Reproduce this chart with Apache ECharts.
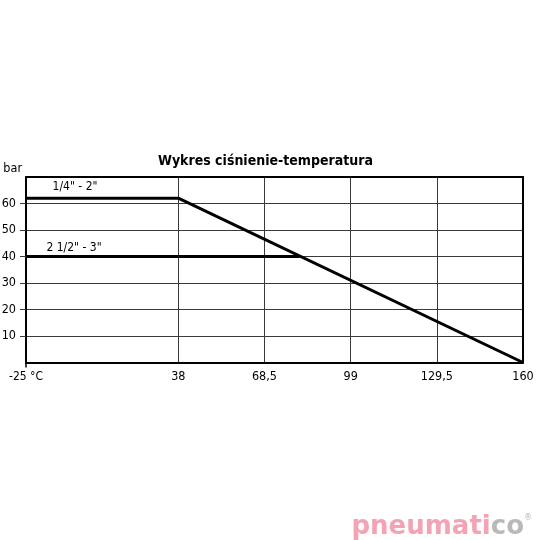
<!DOCTYPE html>
<html>
<head>
<meta charset="utf-8">
<script src="https://cdn.jsdelivr.net/npm/echarts@6/dist/echarts.min.js"></script>
<style>html,body{margin:0;padding:0;background:#fff;}#c{width:540px;height:540px;}</style>
</head>
<body>
<div id="c"></div>
<script>
const chartTitle = 'Wykres ciśnienie-temperatura';
const seriesNames = ['1/4" - 2"', '2 1/2" - 3"'];
const tempSmall = [-25, 38, 160];
const pressSmall = [62, 62, 0];
const tempLarge = [-25, 38, 81];
const pressLarge = [40, 40, 40];
const xTicksLeft = [-25, 38];
const xTicksRight = [38, 68.5, 99, 129.5, 160];
const yTicks = [10, 20, 30, 40, 50, 60];

const FONT = "'Liberation Sans Narrow','DejaVu Sans Condensed','Liberation Sans',sans-serif";
const chart = echarts.init(document.getElementById('c'), null, {renderer: 'canvas'});

function seg(xs, ys, lo, hi) {
  const out = [];
  xs.forEach((x, i) => { if (x >= lo && x <= hi) out.push([x, ys[i]]); });
  return out;
}
const labelOffsets = [[49, 0], [48, 2]];
function leftSeries(name, xs, ys, k) {
  const d = seg(xs, ys, xTicksLeft[0], xTicksLeft[1]).map((p, i) => i === 0 ? {
    value: p,
    label: {show: true, formatter: name, position: 'top', offset: labelOffsets[k], color: '#000', fontSize: 12, fontFamily: FONT}
  } : {value: p});
  return {type: 'line', name, xAxisIndex: 0, yAxisIndex: 0, data: d, showSymbol: true, symbol: 'circle', symbolSize: 0.1,
    itemStyle: {color: '#000'}, lineStyle: {color: '#000', width: 3}, z: 5, silent: true};
}
function rightSeries(name, xs, ys) {
  return {type: 'line', name, xAxisIndex: 2, yAxisIndex: 1, data: seg(xs, ys, xTicksRight[0], xTicksRight[xTicksRight.length - 1]),
    showSymbol: false, lineStyle: {color: '#000', width: 3}, z: 5, silent: true};
}

const yMin = 0, yMax = 70, yInt = yTicks[1] - yTicks[0];
const gridLine = {show: true, lineStyle: {color: '#3a3a3a', width: 1}};
const border = {show: true, onZero: false, lineStyle: {color: '#000', width: 2}};

chart.setOption({
  animation: false,
  title: {text: chartTitle, left: 153, top: 149, textStyle: {fontSize: 14, fontWeight: 'bold', color: '#000', fontFamily: FONT}},
  grid: [
    {left: 26, top: 177, width: 152.3, height: 185.5, outerBoundsMode: 'none', containLabel: false},
    {left: 178.3, top: 177, right: 17, height: 185.5, outerBoundsMode: 'none', containLabel: false}
  ],
  xAxis: [
    {type: 'value', gridIndex: 0, min: xTicksLeft[0], max: xTicksLeft[1], interval: xTicksLeft[1] - xTicksLeft[0],
      axisLine: border, splitLine: {show: false},
      axisTick: {show: true, length: 5, lineStyle: {color: '#000', width: 1.5}, customValues: [xTicksLeft[0]]},
      axisLabel: {showMaxLabel: false, formatter: v => v + ' °C', color: '#000', fontSize: 12, fontFamily: FONT, margin: 8}},
    {type: 'value', gridIndex: 0, position: 'top', min: xTicksLeft[0], max: xTicksLeft[1],
      axisLine: border, splitLine: {show: false}, axisTick: {show: false}, axisLabel: {show: false}},
    {type: 'value', gridIndex: 1, min: xTicksRight[0], max: xTicksRight[xTicksRight.length - 1], interval: xTicksRight[1] - xTicksRight[0],
      axisLine: border, splitLine: gridLine, axisTick: {show: false},
      axisLabel: {formatter: v => String(v).replace('.', ','), color: '#000', fontSize: 12.5, fontFamily: FONT, margin: 8}},
    {type: 'value', gridIndex: 1, position: 'top', min: xTicksRight[0], max: xTicksRight[xTicksRight.length - 1],
      axisLine: border, splitLine: {show: false}, axisTick: {show: false}, axisLabel: {show: false}}
  ],
  yAxis: [
    {type: 'value', gridIndex: 0, min: yMin, max: yMax, interval: yInt,
      name: 'bar', nameLocation: 'end', nameGap: 2,
      nameTextStyle: {align: 'right', color: '#000', fontSize: 12.5, fontFamily: FONT, padding: [0, 4, 0, 0]},
      axisLine: border, splitLine: gridLine,
      axisTick: {show: true, length: 6, lineStyle: {color: '#3a3a3a', width: 1}},
      axisLabel: {showMinLabel: false, showMaxLabel: false, color: '#000', fontSize: 12.5, fontFamily: FONT, margin: 10}},
    {type: 'value', gridIndex: 1, position: 'right', min: yMin, max: yMax, interval: yInt,
      axisLine: border, splitLine: gridLine, axisTick: {show: false}, axisLabel: {show: false}}
  ],
  graphic: [{
    type: 'text', right: 8, top: 514,
    style: {
      text: '{p|pneumati}{g|co}{s|®}',
      rich: {
        p: {fill: '#f4a3b5', fontSize: 26, fontWeight: 'bold', fontFamily: "'DejaVu Sans'"},
        g: {fill: '#b9b9b9', fontSize: 26, fontWeight: 'bold', fontFamily: "'DejaVu Sans'"},
        s: {fill: '#b9b9b9', fontSize: 8, verticalAlign: 'top', fontFamily: "'DejaVu Sans'"}
      }
    }
  }],
  series: [
    leftSeries(seriesNames[0], tempSmall, pressSmall, 0),
    leftSeries(seriesNames[1], tempLarge, pressLarge, 1),
    rightSeries(seriesNames[0], tempSmall, pressSmall),
    rightSeries(seriesNames[1], tempLarge, pressLarge)
  ]
});
</script>
</body>
</html>
